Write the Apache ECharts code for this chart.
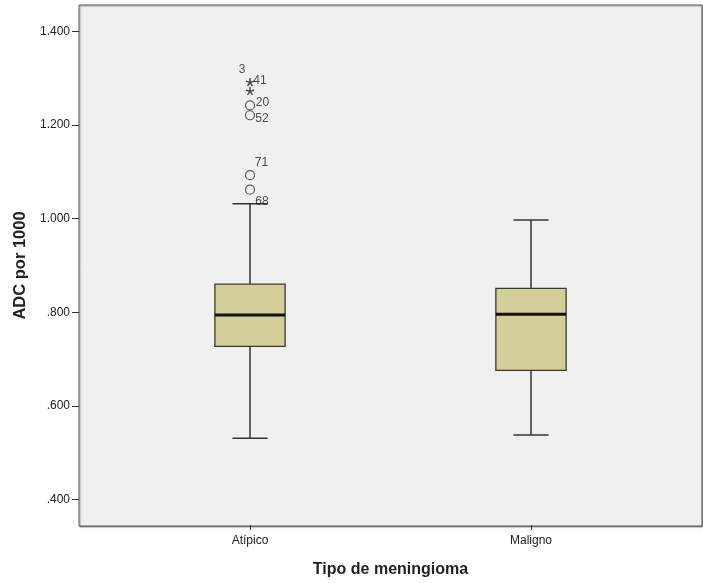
<!DOCTYPE html>
<html>
<head>
<meta charset="utf-8">
<script src="https://cdn.jsdelivr.net/npm/echarts@6/dist/echarts.min.js"></script>
<style>html,body{margin:0;padding:0;background:#fff}#c{width:703px;height:583px}</style>
</head>
<body>
<div id="c"></div>
<script>
// ---- data ----
const categories = ['Atípico', 'Maligno'];
const whiskerLow = [0.531, 0.538];
const quartile1 = [0.727, 0.676];
const medians = [0.794, 0.796];
const quartile3 = [0.860, 0.851];
const whiskerHigh = [1.032, 0.997];
// outliers (all in "Atípico")
const outlierValues = [1.292, 1.273, 1.242, 1.221, 1.093, 1.062];
const outlierCases = ['3', '41', '20', '52', '71', '68'];
const outlierKinds = ['extreme', 'extreme', 'outlier', 'outlier', 'outlier', 'outlier'];
const yTicks = [0.4, 0.6, 0.8, 1.0, 1.2, 1.4];

// ---- styles ----
const labelOffsets = [[-8, -12], [10, -10.5], [12.5, -2.7], [12, 3], [11.5, -12], [12, 12]];
const fontFamily = 'Liberation Sans, Arial, sans-serif';
const lineColor = '#333';

function fmt(v) {
  const s = v.toFixed(3);
  return v < 1 ? s.replace(/^0/, '') : s;
}

const boxData = categories.map((c, i) => [i, whiskerLow[i], quartile1[i], medians[i], quartile3[i], whiskerHigh[i]]);

function renderBox(params, api) {
  const x = api.value(0);
  const pLow = api.coord([x, api.value(1)]);
  const pQ1 = api.coord([x, api.value(2)]);
  const pMed = api.coord([x, api.value(3)]);
  const pQ3 = api.coord([x, api.value(4)]);
  const pHigh = api.coord([x, api.value(5)]);
  const band = api.size([1, 0])[0];
  const bw = band * 0.25, cw = band * 0.125;
  const cx = pLow[0];
  const ls = { stroke: lineColor, lineWidth: 1.5 };
  return {
    type: 'group',
    children: [
      { type: 'line', shape: { x1: cx, y1: pQ3[1], x2: cx, y2: pHigh[1] }, style: ls },
      { type: 'line', shape: { x1: cx, y1: pQ1[1], x2: cx, y2: pLow[1] }, style: ls },
      { type: 'line', shape: { x1: cx - cw / 2, y1: pHigh[1], x2: cx + cw / 2, y2: pHigh[1] }, style: ls },
      { type: 'line', shape: { x1: cx - cw / 2, y1: pLow[1], x2: cx + cw / 2, y2: pLow[1] }, style: ls },
      { type: 'rect', shape: { x: cx - bw / 2, y: pQ3[1], width: bw, height: pQ1[1] - pQ3[1] },
        style: { fill: '#d4ce99', stroke: '#3a3a2a', lineWidth: 1.3 } },
      { type: 'line', shape: { x1: cx - bw / 2, y1: pMed[1], x2: cx + bw / 2, y2: pMed[1] },
        style: { stroke: '#111', lineWidth: 3 } }
    ]
  };
}

const starPath = 'path://M0,0L0,-5M0,0L4.76,-1.55M0,0L2.94,4.05M0,0L-2.94,4.05M0,0L-4.76,-1.55';

const outlierData = outlierValues.map((v, i) => ({
  name: outlierCases[i],
  value: [0, v],
  symbol: outlierKinds[i] === 'extreme' ? starPath : 'circle',
  symbolSize: outlierKinds[i] === 'extreme' ? 8 : 9,
  itemStyle: outlierKinds[i] === 'extreme' ? { borderWidth: 1.5, borderColor: '#222' } : {},
  label: { offset: labelOffsets[i] }
}));

const chart = echarts.init(document.getElementById('c'));
chart.setOption({
  animation: false,
  backgroundColor: '#fff',
  grid: [
    { left: 79, right: 1, top: 5, bottom: 57, show: true, backgroundColor: '#f0f0f0',
      borderColor: '#555', borderWidth: 1,
      shadowColor: 'rgba(0,0,0,0.35)', shadowOffsetX: 1, shadowOffsetY: 1, shadowBlur: 1 },
    { left: 109.5, right: 31.5, top: 31.5, bottom: 82.3 }
  ],
  xAxis: [
    { gridIndex: 0, type: 'value', show: false, min: 0, max: 1 },
    { gridIndex: 1, type: 'category', data: categories, offset: 25.5,
      axisLine: { show: false },
      axisTick: { show: true, alignWithLabel: true, length: 5, lineStyle: { color: lineColor } },
      axisLabel: { margin: 10, fontSize: 12, color: '#222', fontFamily: fontFamily },
      name: 'Tipo de meningioma', nameLocation: 'middle', nameGap: 37,
      nameTextStyle: { fontSize: 16, fontWeight: 'bold', color: '#222', fontFamily: fontFamily },
      splitLine: { show: false } }
  ],
  yAxis: [
    { gridIndex: 0, type: 'value', show: false, min: 0, max: 1 },
    { gridIndex: 1, type: 'value', min: yTicks[0], max: yTicks[yTicks.length - 1], interval: 0.2, offset: 30.5,
      axisLine: { show: false },
      axisTick: { show: true, length: 7, lineStyle: { color: lineColor } },
      axisLabel: { margin: 9, fontSize: 12, color: '#222', fontFamily: fontFamily, formatter: fmt },
      splitLine: { show: false },
      name: 'ADC por 1000', nameLocation: 'middle', nameGap: 49,
      nameTextStyle: { fontSize: 16.5, fontWeight: 'bold', color: '#222', fontFamily: fontFamily } }
  ],
  series: [
    { type: 'custom', xAxisIndex: 1, yAxisIndex: 1, data: boxData, renderItem: renderBox,
      encode: { x: 0, y: [1, 2, 3, 4, 5] } },
    { type: 'scatter', xAxisIndex: 1, yAxisIndex: 1, data: outlierData,
      itemStyle: { color: 'transparent', borderColor: lineColor, borderWidth: 1.2 },
      label: { show: true, position: 'inside', formatter: p => p.name, fontSize: 12, color: '#222', fontFamily: fontFamily },
      z: 5 }
  ]
});
</script>
</body>
</html>
